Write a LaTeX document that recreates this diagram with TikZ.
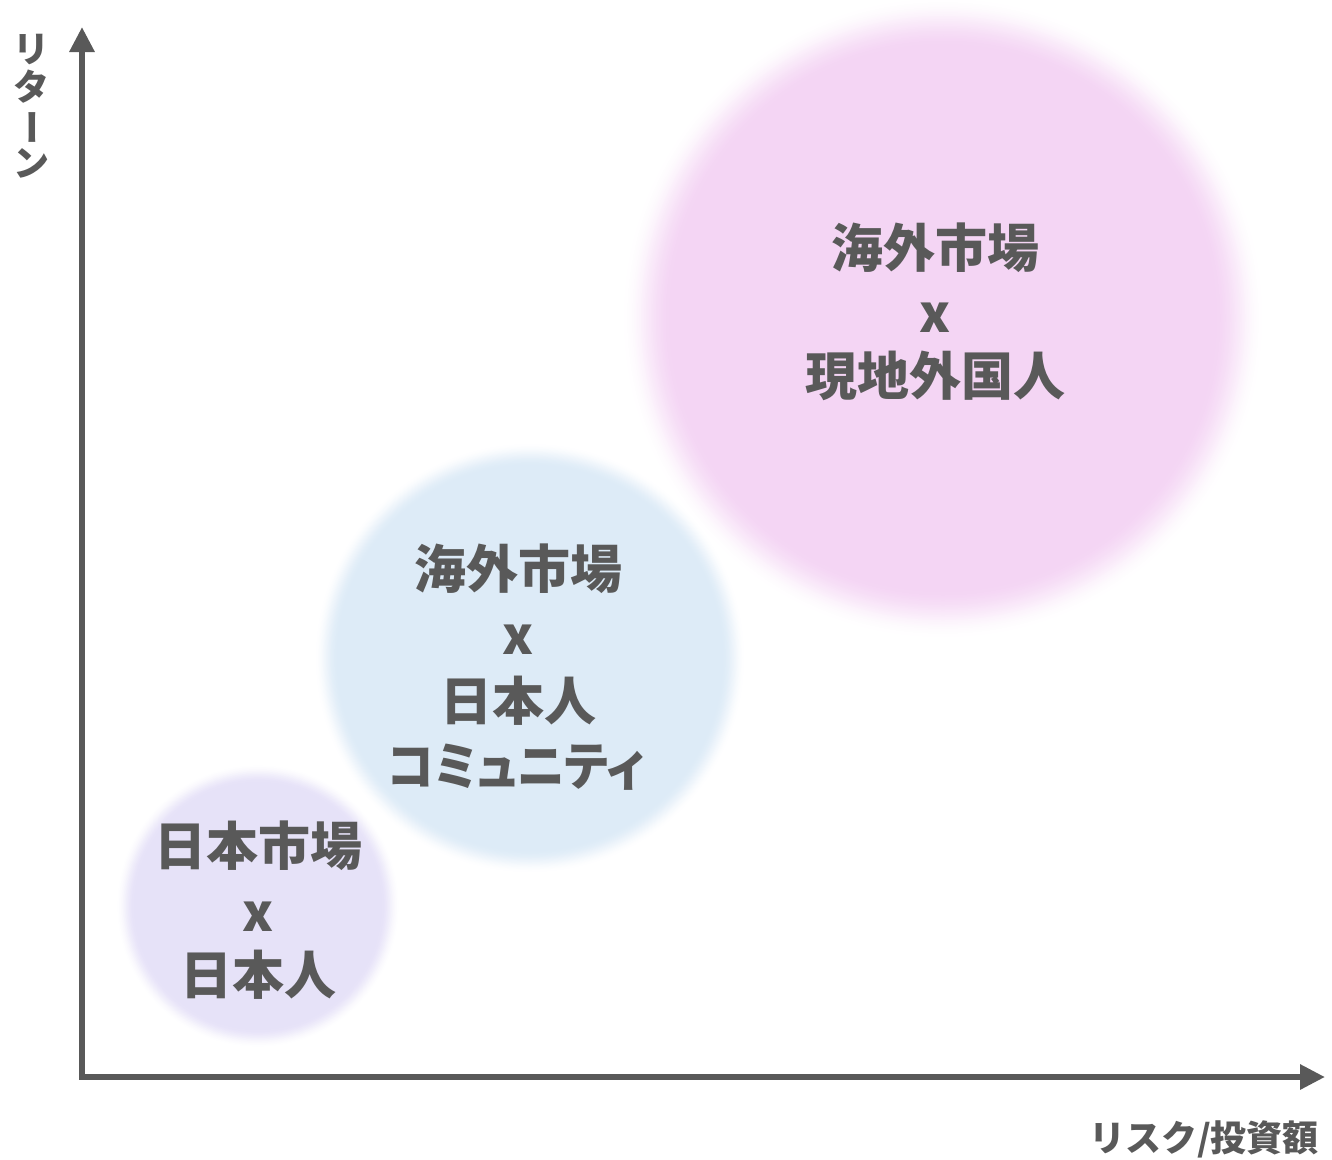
\documentclass[tikz,border=0pt]{standalone}
\usepackage{fontspec}
\usetikzlibrary{arrows.meta}
\newfontfamily\cjk{Noto Sans CJK JP}
\newfontfamily\cjkp{Noto Sans CJK JP}[RawFeature=+palt]
\definecolor{ink}{HTML}{595959}
\definecolor{pinkc}{RGB}{244,213,244}
\definecolor{bluec}{RGB}{221,235,247}
\definecolor{purplec}{RGB}{230,226,248}
\tikzset{
  lbl/.style={text=ink, inner sep=0pt, text height=46pt, text depth=6pt,
    font=\cjk\bfseries\fontsize{52}{64}\selectfont},
  lblp/.style={lbl, font=\cjkp\bfseries\fontsize{52}{64}\selectfont},
  axislbl/.style={text=ink, inner sep=0pt, text height=32pt, text depth=4pt,
    font=\cjk\bfseries\fontsize{36}{40}\selectfont},
  vch/.style={text=ink, inner sep=0pt, text height=31pt, text depth=5pt,
    font=\cjk\bfseries\fontsize{36}{40}\selectfont},
  axis/.style={draw=ink, line width=6pt,
    {Triangle[length=25pt,width=24pt]}-{Triangle[length=25pt,width=24pt]}}
}
% soft-edged disc: #1 colour, #2 centre, #3 outer radius, #4 fade width
\newcommand{\softdisc}[4]{%
  \foreach \i in {0,...,30}{%
    \pgfmathsetmacro\tt{\i/30}%
    \pgfmathsetmacro\rr{#3-#4*\tt}%
    \pgfmathtruncatemacro\pp{100*(3*\tt*\tt-2*\tt*\tt*\tt)}%
    \fill[#1!\pp!white] #2 circle (\rr);
  }}
\begin{document}
\begin{tikzpicture}[x=1pt,y=-1pt]
\useasboundingbox[fill=white] (0,0) rectangle (1332,1159);
% soft circles
\softdisc{pinkc}{(943,318)}{322}{50}
\softdisc{bluec}{(530,658)}{216}{24}
\softdisc{purplec}{(258,906)}{142}{19}
% axes
\coordinate (ytip) at (82,27);
\coordinate (O) at (82,1077);
\coordinate (xtip) at (1325,1077);
\draw[axis] (ytip) -- (O) -- (xtip);
% axis labels
\node[vch] (y1) at (31,49) {リ};
\node[vch] (y2) at (31,87) {タ};
\node[vch, rotate=-90] (y3) at (31,127) {ー};
\node[vch] (y4) at (31,163) {ン};
\node[axislbl] (xlabel) at (1204,1137) {リスク/投資額};
% pink labels
\node[lbl] (p1) at (935,247) {海外市場};
\node[lbl] (p2) at (935,312) {x};
\node[lbl] (p3) at (935,375) {現地外国人};
% blue labels
\node[lbl] (b1) at (518,568) {海外市場};
\node[lbl] (b2) at (518,634) {x};
\node[lbl] (b3) at (518,700) {日本人};
\node[lblp] (b4) at (516,765) {\scalebox{0.92}[1]{コミュニティ}};
% purple labels
\node[lbl] (q1) at (258,845) {日本市場};
\node[lbl] (q2) at (258,911) {x};
\node[lbl] (q3) at (258,974) {日本人};
\end{tikzpicture}
\end{document}
